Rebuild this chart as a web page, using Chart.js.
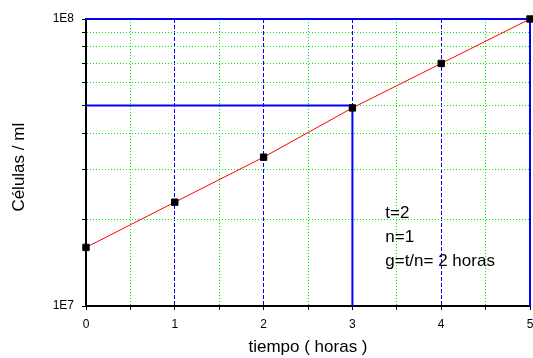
<!DOCTYPE html>
<html>
<head>
<meta charset="utf-8">
<script src="https://cdn.jsdelivr.net/npm/chart.js@4/dist/chart.umd.min.js"></script>
<style>
html, body { margin: 0; padding: 0; background: #fff; }
</style>
</head>
<body>
<canvas id="growthChart" width="533" height="358"></canvas>
<script>
// datos
var hours = [0, 1, 2, 3, 4, 5];
var cells = [1.6e7, 2.3e7, 3.3e7, 4.9e7, 7.0e7, 1.0e8];

// lineas guia azules (hora, celulas)
var guideHours = [5, 3];
var guideCells = [1.0e8, 5.0e7];

var xTicks = [0, 0.5, 1, 1.5, 2, 2.5, 3, 3.5, 4, 4.5, 5];
var yTicks = [1e7, 2e7, 3e7, 4e7, 5e7, 6e7, 7e7, 8e7, 9e7, 1e8];
var yLabelValues = [1e7, 1e8];
var yLabelTexts = ['1E7', '1E8'];

var notes = ['t=2', 'n=1', 'g=t/n= 2 horas'];

var fontName = '"Liberation Sans", Arial, sans-serif';
var green = '#00ee00';
var blue = '#0000ff';

var datasets = [{
    label: 'Células',
    data: hours.map(function (h, i) { return { x: h, y: cells[i] }; }),
    borderColor: '#ff0000',
    borderWidth: 1,
    pointStyle: 'rect',
    pointRadius: 4.5,
    pointBackgroundColor: '#000',
    pointBorderColor: '#000',
    pointBorderWidth: 1,
    clip: false
}];

guideHours.forEach(function (h, i) {
    datasets.push({
        label: 'guia ' + i,
        data: [
            { x: 0, y: guideCells[i] },
            { x: h, y: guideCells[i] },
            { x: h, y: yTicks[0] }
        ],
        borderColor: blue,
        borderWidth: 2,
        pointRadius: 0,
        clip: false
    });
});

var notesPlugin = {
    id: 'notes',
    afterDraw: function (chart) {
        var ctx = chart.ctx;
        var x = chart.scales.x.getPixelForValue(3.37);
        var top = chart.chartArea.top;
        ctx.save();
        ctx.fillStyle = '#000';
        ctx.font = '17px ' + fontName;
        ctx.textBaseline = 'alphabetic';
        notes.forEach(function (t, i) {
            ctx.fillText(t, x, top + 199 + i * 24);
        });
        ctx.restore();
    }
};

var ctx1 = document.getElementById('growthChart').getContext('2d');
var growthChart = new Chart(ctx1, {
    type: 'line',
    data: { datasets: datasets },
    options: {
        responsive: false,
        animation: false,
        layout: {
            autoPadding: false,
            padding: { top: 19, right: 3, left: 0, bottom: 0 }
        },
        plugins: {
            legend: { display: false },
            tooltip: { enabled: false }
        },
        scales: {
            x: {
                type: 'linear',
                min: 0,
                max: 5,
                afterBuildTicks: function (scale) {
                    scale.ticks = xTicks.map(function (v) { return { value: v }; });
                },
                afterFit: function (scale) {
                    scale.height = 52;
                    scale.paddingLeft = 0;
                    scale.paddingRight = 0;
                },
                ticks: {
                    autoSkip: false,
                    maxRotation: 0,
                    padding: 7,
                    color: '#000',
                    font: { family: fontName, size: 12 },
                    callback: function (v) {
                        return Number.isInteger(v) ? String(v) : '';
                    }
                },
                grid: {
                    color: function (c) {
                        if (!c.tick || c.tick.value === 0) return 'rgba(0,0,0,0)';
                        return Number.isInteger(c.tick.value) ? blue : green;
                    },
                    lineWidth: 1,
                    tickLength: 4,
                    tickColor: '#000'
                },
                border: {
                    color: '#000',
                    width: 2,
                    dash: function (c) {
                        if (!c.tick) return [];
                        return Number.isInteger(c.tick.value) ? [4, 2] : [1, 2];
                    }
                },
                title: {
                    display: true,
                    text: 'tiempo ( horas )',
                    color: '#000',
                    font: { family: fontName, size: 17 },
                    padding: { top: 0, bottom: 0 }
                }
            },
            y: {
                type: 'logarithmic',
                min: 1e7,
                max: 1e8,
                afterBuildTicks: function (scale) {
                    scale.ticks = yTicks.map(function (v) { return { value: v }; });
                },
                afterFit: function (scale) {
                    scale.width = 86;
                    scale.paddingTop = 0;
                    scale.paddingBottom = 0;
                },
                ticks: {
                    padding: 8,
                    color: '#000',
                    font: { family: fontName, size: 12 },
                    callback: function (v) {
                        var k = yLabelValues.indexOf(v);
                        return k >= 0 ? yLabelTexts[k] : '';
                    }
                },
                grid: {
                    color: function (c) {
                        if (!c.tick) return 'rgba(0,0,0,0)';
                        return yLabelValues.indexOf(c.tick.value) >= 0 ? 'rgba(0,0,0,0)' : green;
                    },
                    lineWidth: 1,
                    tickLength: 4,
                    tickColor: '#000'
                },
                border: {
                    color: '#000',
                    width: 2,
                    dash: [1, 2]
                },
                title: {
                    display: true,
                    text: 'Células / ml  ',
                    color: '#000',
                    font: { family: fontName, size: 17 },
                    padding: { top: 9, bottom: 0 }
                }
            }
        }
    },
    plugins: [notesPlugin]
});
</script>
</body>
</html>
